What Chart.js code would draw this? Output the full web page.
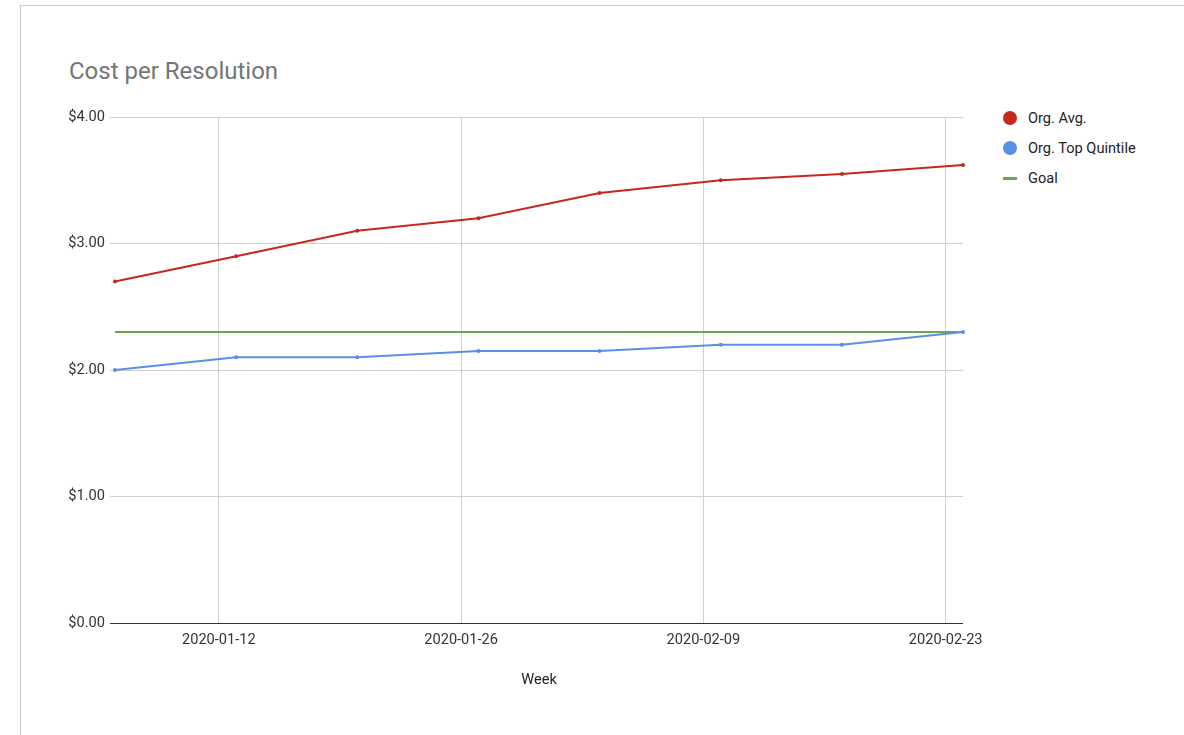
<!DOCTYPE html>
<html>
<head>
<meta charset="utf-8">
<script src="https://cdn.jsdelivr.net/npm/chart.js@4/dist/chart.umd.min.js"></script>
<style>
  html, body { margin: 0; padding: 0; background: #fff; }
  body { width: 1184px; height: 735px; position: relative; overflow: hidden; font-family: Roboto, "Noto Sans", sans-serif; }
  #frame { position: absolute; left: 20px; top: 5px; width: 1200px; height: 760px; border-top: 1px solid #c9c9c9; border-left: 1px solid #c9c9c9; }
  #title { position: absolute; left: 69px; top: 56px; font-size: 24px; line-height: 30px; color: #757575; white-space: nowrap; }
  #legend { position: absolute; left: 1002px; top: 108px; font-size: 14.6px; color: #222; }
  .item { height: 30px; display: flex; align-items: flex-start; }
  .sw { width: 16px; height: 20px; margin-right: 10px; position: relative; }
  .dot { position: absolute; left: 1px; top: 3px; width: 14px; height: 14px; border-radius: 50%; }
  .bar { position: absolute; left: 1px; top: 9px; width: 14px; height: 3px; }
  .lbl { line-height: 20px; }
  #wrap { position: absolute; left: 0; top: 0; width: 1184px; height: 735px; }
</style>
</head>
<body>
<div id="frame"></div>
<div id="title">Cost per Resolution</div>
<div id="legend"></div>
<div id="wrap"><canvas id="c" width="1184" height="735"></canvas></div>
<script>
// Weekly cost per resolution
const weeks = ['2020-01-06', '2020-01-13', '2020-01-20', '2020-01-27', '2020-02-03', '2020-02-10', '2020-02-17', '2020-02-24'];
const orgAvg = [2.70, 2.90, 3.10, 3.20, 3.40, 3.50, 3.55, 3.62];
const orgTopQuintile = [2.00, 2.10, 2.10, 2.15, 2.15, 2.20, 2.20, 2.30];
const goal = [2.30, 2.30, 2.30, 2.30, 2.30, 2.30, 2.30, 2.30];
const xTickDates = ['2020-01-12', '2020-01-26', '2020-02-09', '2020-02-23'];
const yTicks = [0, 1, 2, 3, 4];

const DAY = 86400000;
const toDay = s => Date.parse(s) / DAY;
const fromDay = d => new Date(Math.round(d) * DAY).toISOString().slice(0, 10);
const weekDays = weeks.map(toDay);
const pts = vals => vals.map((v, i) => ({ x: weekDays[i], y: v }));

const series = [
  { label: 'Org. Avg.', data: orgAvg, color: '#c5281c', marker: 'dot', radius: 2 },
  { label: 'Org. Top Quintile', data: orgTopQuintile, color: '#5b8ee6', marker: 'dot', radius: 2 },
  { label: 'Goal', data: goal, color: '#6aa84f', marker: 'bar', radius: 0 }
];

// Legend
const legend = document.getElementById('legend');
series.forEach(s => {
  const item = document.createElement('div');
  item.className = 'item';
  item.innerHTML = '<div class="sw"><div class="' + s.marker + '" style="background:' + s.color + '"></div></div><div class="lbl"></div>';
  item.querySelector('.lbl').textContent = s.label;
  legend.appendChild(item);
});

const font = { family: 'Roboto, "Noto Sans", sans-serif', size: 14.6 };

new Chart(document.getElementById('c'), {
  type: 'line',
  data: {
    datasets: series.map(s => ({
      label: s.label,
      data: pts(s.data),
      borderColor: s.color,
      backgroundColor: s.color,
      borderWidth: 2,
      pointRadius: s.radius,
      pointHoverRadius: s.radius,
      pointBorderWidth: 0,
      tension: 0,
      clip: false
    }))
  },
  options: {
    responsive: false,
    animation: false,
    events: [],
    layout: { padding: { left: 0, right: 221, top: 117, bottom: 46 } },
    plugins: { legend: { display: false }, title: { display: false }, tooltip: { enabled: false } },
    scales: {
      x: {
        type: 'linear',
        min: weekDays[0],
        max: weekDays[weekDays.length - 1],
        afterBuildTicks: sc => { sc.ticks = xTickDates.map(d => ({ value: toDay(d) })); },
        afterFit: sc => { sc.height = 66; },
        grid: { color: '#d0d0d0', drawTicks: false, lineWidth: 1 },
        border: { display: false },
        ticks: { font, color: '#333', padding: 9, maxRotation: 0, autoSkip: false, callback: v => fromDay(v) },
        title: { display: true, text: 'Week', font, color: '#222', padding: { top: 10, bottom: 0 } }
      },
      y: {
        min: 0,
        max: 4,
        afterBuildTicks: sc => { sc.ticks = yTicks.map(v => ({ value: v })); },
        afterFit: sc => { sc.width = 115; },
        grid: {
          color: ctx => (ctx.tick && ctx.tick.value === 0 ? '#333' : '#d0d0d0'),
          drawTicks: true, tickLength: 5, lineWidth: 1, z: 0
        },
        border: { display: false },
        ticks: { font, color: '#333', padding: 5, callback: v => '$' + v.toFixed(2) }
      }
    }
  }
});
</script>
</body>
</html>
